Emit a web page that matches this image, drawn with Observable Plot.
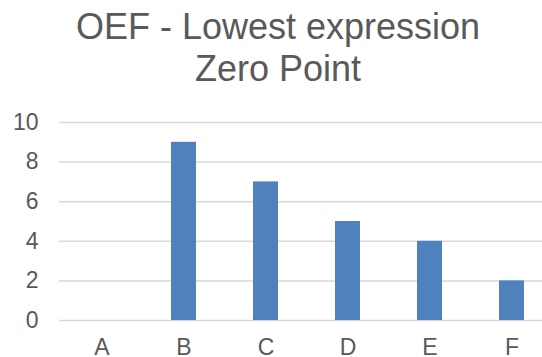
<!DOCTYPE html>
<html>
<head>
<meta charset="utf-8">
<script src="https://cdn.jsdelivr.net/npm/d3@7"></script>
<script src="https://cdn.jsdelivr.net/npm/@observablehq/plot@0.6"></script>
<style>
  html, body { margin: 0; padding: 0; background: #fff; overflow: hidden; }
  #frame { width: 542px; height: 357px; overflow: hidden; position: relative; }
  #title {
    width: 556px;
    height: 90px;
    box-sizing: border-box;
    padding-top: 5.5px;
    text-align: center;
    font-family: "Liberation Sans", Arial, sans-serif;
    font-size: 36px;
    line-height: 42px;
    color: #595959;
  }
  #chart svg { display: block; max-width: none; }
</style>
</head>
<body>
<div id="frame">
  <div id="title">OEF - Lowest expression<br>Zero Point</div>
  <div id="chart"></div>
</div>
<script>
// Number of samples per group at the lowest expression (zero point)
const groups = ["A", "B", "C", "D", "E", "F"];
const counts = [0, 9, 7, 5, 4, 2];
const yTicks = [0, 2, 4, 6, 8, 10];

const rows = groups.map((g, i) => ({group: g, count: counts[i]}));

const chart = Plot.plot({
  width: 556,
  height: 267,
  marginTop: 32,
  marginBottom: 37,
  marginLeft: 59,
  marginRight: 1,
  style: {
    fontFamily: "'Liberation Sans', Arial, sans-serif",
    fontSize: "23px",
    color: "#595959",
    background: "white",
    maxWidth: "none"
  },
  x: {
    domain: groups,
    paddingInner: 0.69,
    paddingOuter: 0.345,
    label: null,
    tickSize: 0,
    tickPadding: 18
  },
  y: {
    domain: [0, 10],
    ticks: yTicks,
    label: null,
    tickSize: 0,
    tickPadding: 21
  },
  marks: [
    Plot.ruleY(yTicks, {stroke: "#d9d9d9", strokeWidth: 1.5}),
    Plot.barY(rows, {x: "group", y: "count", fill: "#4f81bd"})
  ]
});

document.getElementById("chart").appendChild(chart);
</script>
</body>
</html>
